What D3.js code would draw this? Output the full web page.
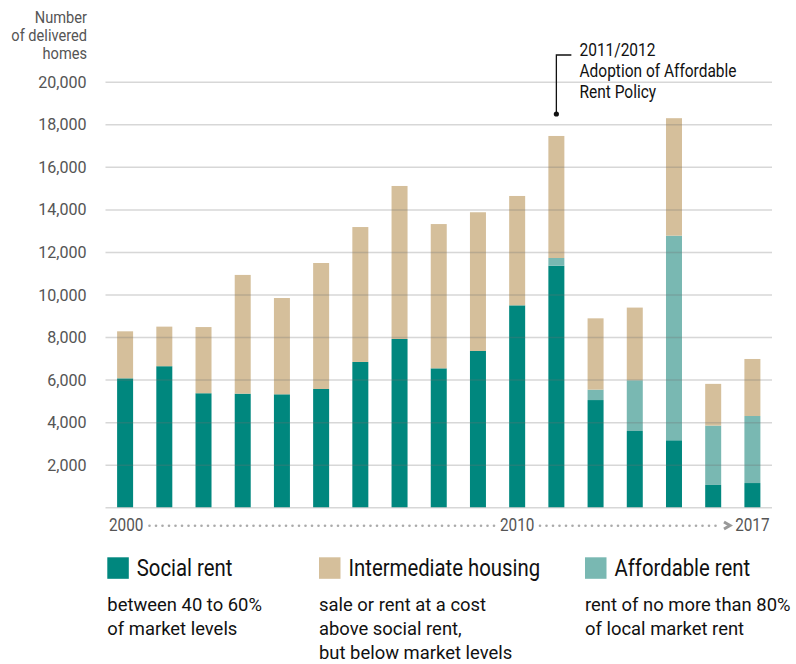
<!DOCTYPE html>
<head>
 <script src="https://cdn.jsdelivr.net/npm/d3@7"></script>
 <title>Delivered homes</title>
</head>

<style>
body{
  margin: 0;
  background-color: white;
}
text{
  font-family: Roboto, "Liberation Sans", sans-serif;
}
</style>

<body>
 <div id="chart"></div>
</body>

<script type="text/javascript">
 // fiscal years, 2000/01 .. 2016/17
 var years = [2000, 2001, 2002, 2003, 2004, 2005, 2006, 2007, 2008, 2009, 2010, 2011, 2012, 2013, 2014, 2015, 2016];
 var social = [6060, 6630, 5360, 5340, 5310, 5560, 6830, 7910, 6530, 7345, 9490, 11350, 5040, 3585, 3150, 1050, 1140];
 var affordable = [0, 0, 0, 0, 0, 0, 0, 0, 0, 0, 0, 365, 490, 2385, 9615, 2790, 3150];
 var intermediate = [2210, 1860, 3110, 5580, 4525, 5920, 6340, 7190, 6780, 6520, 5140, 5735, 3350, 3415, 5520, 1960, 2680];
 var yTicks = [0, 2000, 4000, 6000, 8000, 10000, 12000, 14000, 16000, 18000, 20000];
 var xLabels = ["2000", "2010", "2017"];
 var seriesKeys = ["social", "affordable", "intermediate"];
 var seriesColors = {social: "#00877e", affordable: "#79b8b2", intermediate: "#d5bf9b"};
 var legendItems = [
   {key: "social", label: "Social rent", note: ["between 40 to 60%", "of market levels"]},
   {key: "intermediate", label: "Intermediate housing", note: ["sale or rent at a cost", "above social rent,", "but below market levels"]},
   {key: "affordable", label: "Affordable rent", note: ["rent of no more than 80%", "of local market rent"]}
 ];

 var props = {
   width: 796,
   height: 664,
   left: 105.5,
   right: 772,
   top: 81.7,
   bottom: 507.3
 }

 var svg = d3.select("#chart").append("svg").attr("width", props.width).attr("height", props.height);

 // the original uses a condensed face; squeeze Roboto horizontally to get close
 function label(parent, x, y, lines, o){
   var g = parent.append("g")
     .attr("transform", "translate(" + x + "," + y + ") scale(" + o.sx + ",1)");
   var t = g.append("text")
     .attr("text-anchor", o.anchor || "start")
     .attr("fill", o.fill)
     .style("font-size", o.size + "px");
   t.selectAll("tspan").data(lines).enter().append("tspan")
     .attr("x", 0).attr("y", function(d, i){ return i * (o.lh || 0); })
     .text(function(d){ return d; });
   return g;
 }

 var table = years.map(function(y, i){
   return {year: y, social: social[i], affordable: affordable[i], intermediate: intermediate[i]};
 });
 var stacked = d3.stack().keys(seriesKeys)(table);

 var x = d3.scaleBand().domain(years).range([props.left, props.right]).paddingInner(0.592).paddingOuter(0.296);
 var y = d3.scaleLinear().domain([0, 20000]).range([props.bottom, props.top]);

 // bars
 svg.append("g").selectAll("g")
   .data(stacked)
   .enter().append("g")
   .attr("fill", function(d){ return seriesColors[d.key]; })
   .selectAll("rect")
   .data(function(d){ return d; })
   .enter().append("rect")
   .attr("x", function(d){ return x(d.data.year); })
   .attr("width", x.bandwidth())
   .attr("y", function(d){ return y(d[1]); })
   .attr("height", function(d){ return y(d[0]) - y(d[1]); });

 // gridlines sit on top of the bars
 var yAxis = d3.axisLeft(y).tickValues(yTicks)
   .tickSize(-(props.right - props.left))
   .tickFormat("");
 var ga = svg.append("g").attr("transform", "translate(" + props.left + ",0)").call(yAxis);
 ga.select(".domain").remove();
 ga.selectAll(".tick line").attr("stroke", "rgba(110,110,110,0.28)").attr("stroke-width", 1.5);

 var fmt = d3.format(",");
 yTicks.filter(function(d){ return d > 0; }).forEach(function(d){
   label(svg, 86.5, y(d) + 6, [fmt(d)], {sx: 0.93, size: 17.3, fill: "#555", anchor: "end"});
 });

 // axis title
 label(svg, 87, 22.7, ["Number", "of delivered", "homes"], {sx: 0.86, size: 17, fill: "#555", anchor: "end", lh: 18.3});

 // x labels with dotted leaders
 var cx = function(yr){ return x(yr) + x.bandwidth() / 2; };
 label(svg, 109, 531, [xLabels[0]], {sx: 0.85, size: 18, fill: "#555"});
 label(svg, cx(2010), 531, [xLabels[1]], {sx: 0.85, size: 18, fill: "#555", anchor: "middle"});
 label(svg, 769.5, 531, [xLabels[2]], {sx: 0.85, size: 18, fill: "#555", anchor: "end"});
 var dots = d3.range(149.5, 497, 6.5).concat(d3.range(540, 720, 6.5));
 svg.append("g").selectAll("circle").data(dots).enter().append("circle")
   .attr("cx", function(d){ return d; }).attr("cy", 525.7).attr("r", 1.3).attr("fill", "#aaa");
 svg.append("path").attr("d", "M724,522 L730,525.5 L724,529").attr("fill", "none")
   .attr("stroke", "#999").attr("stroke-width", 3);

 // annotation
 var ax = cx(2011);
 svg.append("path").attr("d", "M" + (ax + 15) + ",55 H" + ax + " V114")
   .attr("fill", "none").attr("stroke", "#111").attr("stroke-width", 1.3);
 svg.append("circle").attr("cx", ax).attr("cy", 114).attr("r", 2.6).attr("fill", "#111");
 label(svg, 579.5, 56, ["2011/2012", "Adoption of Affordable", "Rent Policy"], {sx: 0.87, size: 17.8, fill: "#111", lh: 21.2});

 // legend
 var legendX = [107.3, 319, 585];
 legendItems.forEach(function(d, i){
   svg.append("rect").attr("x", legendX[i]).attr("y", 557.3).attr("width", 21.5).attr("height", 21.5)
     .attr("fill", seriesColors[d.key]);
   label(svg, legendX[i] + 29.5, 576, [d.label], {sx: 0.83, size: 24.5, fill: "#111"});
   label(svg, legendX[i], 610.7, d.note, {sx: 0.97, size: 19, fill: "#111", lh: 24});
 });
</script>
